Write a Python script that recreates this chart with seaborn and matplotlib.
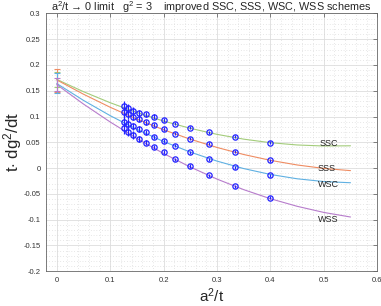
import numpy as np
import pandas as pd
import seaborn as sns
import matplotlib.pyplot as plt
from matplotlib.ticker import MultipleLocator, FixedLocator, FixedFormatter

# lattice data points: a^2/t for t = 8 ... 2.5
a2t = [0.125, 0.1333, 0.1429, 0.1538, 0.1667, 0.1818, 0.2, 0.2222, 0.25, 0.2857, 0.3333, 0.4]
ssc = [0.120, 0.116, 0.111, 0.107, 0.104, 0.100, 0.093, 0.086, 0.078, 0.069, 0.061, 0.049]
sss = [0.109, 0.105, 0.0996, 0.0945, 0.089, 0.084, 0.076, 0.067, 0.057, 0.047, 0.032, 0.0155]
wsc = [0.090, 0.086, 0.081, 0.076, 0.069, 0.061, 0.053, 0.043, 0.031, 0.017, 0.0014, -0.0136]
wss = [0.077, 0.0705, 0.064, 0.056, 0.049, 0.041, 0.031, 0.017, 0.0039, -0.014, -0.035, -0.0576]
err = [0.011, 0.009, 0.007, 0.006, 0.005, 0.004, 0.0035, 0.003, 0.003, 0.003, 0.003, 0.003]

# fit curves
fit_x = [0.0, 0.05, 0.1, 0.15, 0.2, 0.25, 0.3, 0.35, 0.4, 0.45, 0.5, 0.55]
fit_ssc = [0.172, 0.1482, 0.1268, 0.1078, 0.0912, 0.0771, 0.0654, 0.0561, 0.0492, 0.0448, 0.0428, 0.0432]
fit_sss = [0.171, 0.1433, 0.1180, 0.0950, 0.0743, 0.0560, 0.0400, 0.0263, 0.0150, 0.0060, -0.0007, -0.005]
fit_wsc = [0.164, 0.1313, 0.1017, 0.0751, 0.0515, 0.0310, 0.0135, -0.0010, -0.0124, -0.0208, -0.0262, -0.0285]
fit_wss = [0.162, 0.1242, 0.0894, 0.0574, 0.0282, 0.0020, -0.0214, -0.0419, -0.0595, -0.0742, -0.0861, -0.0950]

# continuum limits at a^2/t = 0
schemes = ['SSC', 'SSS', 'WSC', 'WSS']
lim_val = [0.172, 0.170, 0.165, 0.162]
lim_err = [0.014, 0.022, 0.020, 0.012]
colors = {'SSC': '#a3cc7a', 'SSS': '#ef8c62', 'WSC': '#5fb0e2', 'WSS': '#b77ccc'}
label_x = [0.51, 0.505, 0.508, 0.508]
label_y = [0.048, -0.001, -0.031, -0.0996]

xticks = [0, 0.1, 0.2, 0.3, 0.4, 0.5, 0.6]
xtick_labels = ['0', '0.1', '0.2', '0.3', '0.4', '0.5', '0.6']
yticks = [-0.2, -0.15, -0.1, -0.05, 0, 0.05, 0.1, 0.15, 0.2, 0.25, 0.3]
ytick_labels = ['-0.2', '-0.15', '-0.1', '-0.05', '0', '0.05', '0.1', '0.15', '0.2', '0.25', '0.3']

sns.set_style("white")
plt.rcParams['font.family'] = ['Liberation Sans', 'DejaVu Sans']
plt.rcParams['mathtext.fontset'] = 'custom'
plt.rcParams['mathtext.rm'] = 'Liberation Sans'
plt.rcParams['mathtext.it'] = 'Liberation Sans:italic'

fits = pd.DataFrame({
    'x': fit_x * 4,
    'y': fit_ssc + fit_sss + fit_wsc + fit_wss,
    'scheme': [s for s in schemes for _ in fit_x],
})

fig = plt.figure(figsize=(3.81, 3.06), dpi=100)
ax = fig.add_axes([0.121, 0.114, 0.869, 0.842])

sns.lineplot(data=fits, x='x', y='y', hue='scheme', palette=colors, lw=0.8,
             legend=False, ax=ax, zorder=2)

for s, v, e in zip(schemes, lim_val, lim_err):
    ax.errorbar([0], [v], yerr=[e], color=colors[s], capsize=2.5, elinewidth=0.8,
                capthick=0.8, fmt='none', zorder=3)

for vals in [ssc, sss, wsc, wss]:
    ax.errorbar(a2t, vals, yerr=err, fmt='o', color='#2222ff', mfc='none',
                mec='#2222ff', ms=3.8, mew=0.9, elinewidth=0.9, zorder=4)

for s, lx, ly in zip(schemes, label_x, label_y):
    ax.text(lx, ly, s, fontsize=6.5, ha='center', va='center', color='#222222')

ax.set_xlim(-0.02, 0.6)
ax.set_ylim(-0.2, 0.3)
ax.xaxis.set_major_locator(FixedLocator(xticks))
ax.xaxis.set_major_formatter(FixedFormatter(xtick_labels))
ax.yaxis.set_major_locator(FixedLocator(yticks))
ax.yaxis.set_major_formatter(FixedFormatter(ytick_labels))
ax.xaxis.set_minor_locator(MultipleLocator(0.02))
ax.yaxis.set_minor_locator(MultipleLocator(0.01))
ax.grid(True, which='major', color='#dddddd', lw=0.6)
ax.grid(True, which='minor', color='#d0d0d0', lw=0.5, ls=(0, (1, 3)))
ax.set_axisbelow(True)
ax.tick_params(which='major', direction='in', length=3, width=0.5, top=True, right=True,
               labelsize=5.5, labelcolor='#333333', color='#555555', pad=4)
ax.tick_params(which='minor', length=0)
for sp in ax.spines.values():
    sp.set_color('#666666')
    sp.set_linewidth(0.6)

ax.set_xlabel(r'a$^2$/t', fontsize=11, labelpad=2)
ax.set_ylabel(r't$\cdot$ dg$^2$/dt', fontsize=12)
ax.yaxis.set_label_coords(-0.068, 0.5)
ax.set_title(r'a$^2$/t → 0 limit   g$^2$ = 3    improved SSC, SSS, WSC, WSS schemes',
             fontsize=7.8, pad=2)

fig.savefig('out.png', dpi=100)
